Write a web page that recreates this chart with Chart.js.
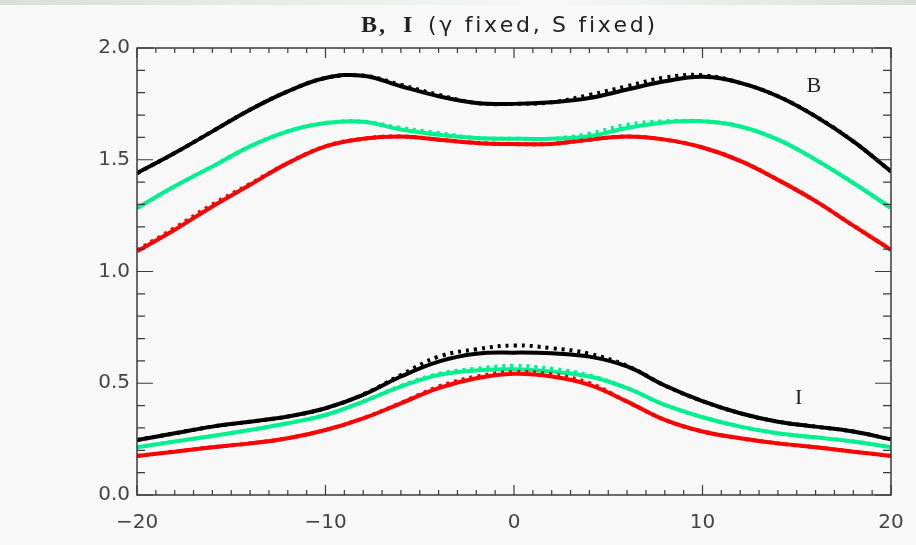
<!DOCTYPE html>
<html>
<head>
<meta charset="utf-8">
<script src="https://cdn.jsdelivr.net/npm/chart.js@4/dist/chart.umd.min.js"></script>
<style>
  html, body { margin: 0; padding: 0; background: #f8f8f8; }
  #wrap { width: 916px; height: 545px; }
</style>
</head>
<body>
<div id="wrap"><canvas id="c" width="916" height="545"></canvas></div>
<script>
// B and I profiles vs position; solid = fit, dotted = model
const X = [-20, -18, -16, -14, -12, -10, -8, -6, -4, -2, 0, 2, 4, 6, 8, 10, 12, 14, 16, 18, 20];

const bBlack      = [1.44, 1.53, 1.627, 1.724, 1.806, 1.866, 1.876, 1.829, 1.784, 1.754, 1.75, 1.757, 1.776, 1.814, 1.851, 1.871, 1.844, 1.784, 1.694, 1.582, 1.448];
const bBlackDot   = [1.44, 1.53, 1.627, 1.724, 1.806, 1.866, 1.876, 1.835, 1.79, 1.754, 1.75, 1.757, 1.79, 1.829, 1.868, 1.878, 1.844, 1.784, 1.694, 1.582, 1.448];
const bGreen      = [1.284, 1.381, 1.47, 1.56, 1.627, 1.664, 1.67, 1.635, 1.612, 1.597, 1.594, 1.594, 1.605, 1.642, 1.667, 1.672, 1.649, 1.59, 1.5, 1.396, 1.284];
const bGreenDot   = [1.284, 1.381, 1.47, 1.56, 1.627, 1.664, 1.67, 1.642, 1.62, 1.597, 1.594, 1.594, 1.617, 1.657, 1.672, 1.672, 1.649, 1.59, 1.5, 1.396, 1.284];
const bRed        = [1.09, 1.187, 1.291, 1.388, 1.485, 1.56, 1.594, 1.604, 1.59, 1.575, 1.57, 1.571, 1.59, 1.604, 1.59, 1.555, 1.495, 1.41, 1.315, 1.205, 1.097];
const bRedDot     = [1.095, 1.195, 1.3, 1.392, 1.485, 1.56, 1.594, 1.604, 1.59, 1.575, 1.57, 1.571, 1.59, 1.604, 1.59, 1.555, 1.495, 1.41, 1.315, 1.205, 1.097];

const iBlack      = [0.246, 0.276, 0.306, 0.328, 0.351, 0.388, 0.448, 0.53, 0.597, 0.632, 0.637, 0.634, 0.619, 0.575, 0.49, 0.42, 0.366, 0.328, 0.306, 0.284, 0.249];
const iBlackDot   = [0.246, 0.276, 0.306, 0.328, 0.351, 0.388, 0.45, 0.537, 0.619, 0.652, 0.669, 0.657, 0.632, 0.578, 0.49, 0.42, 0.366, 0.328, 0.306, 0.284, 0.249];
const iGreen      = [0.214, 0.239, 0.264, 0.291, 0.321, 0.358, 0.418, 0.485, 0.537, 0.557, 0.563, 0.552, 0.53, 0.478, 0.403, 0.348, 0.306, 0.276, 0.258, 0.239, 0.214];
const iGreenDot   = [0.214, 0.239, 0.264, 0.291, 0.321, 0.358, 0.418, 0.488, 0.542, 0.565, 0.578, 0.565, 0.535, 0.478, 0.403, 0.348, 0.306, 0.276, 0.258, 0.239, 0.214];
const iRed        = [0.175, 0.194, 0.214, 0.231, 0.254, 0.291, 0.343, 0.41, 0.478, 0.522, 0.542, 0.53, 0.493, 0.418, 0.336, 0.284, 0.254, 0.231, 0.214, 0.194, 0.175];
const iRedDot     = [0.175, 0.194, 0.214, 0.231, 0.254, 0.291, 0.343, 0.412, 0.485, 0.53, 0.55, 0.54, 0.5, 0.418, 0.336, 0.284, 0.254, 0.231, 0.214, 0.194, 0.175];

const BLACK = '#000000';
const GREEN = '#00f090';
const RED = '#ff0000';

const TICK_FONT = { family: "'DejaVu Sans', sans-serif", size: 20 };
const AXIS_COLOR = '#3a3a3a';

function pts(ys) {
    return ys.map((y, i) => ({ x: X[i], y }));
}

function line(ys, color, dotted) {
    return {
        data: pts(ys),
        borderColor: color,
        borderWidth: 4,
        borderDash: dotted ? [3, 5] : [],
        pointRadius: 0,
        fill: false,
        tension: 0.4,
    };
}

// dotted sets first so they end up drawn on top of the solid ones
const datasets = [
    line(bBlackDot, BLACK, true), line(bGreenDot, GREEN, true), line(bRedDot, RED, true),
    line(iBlackDot, BLACK, true), line(iGreenDot, GREEN, true), line(iRedDot, RED, true),
    line(bBlack, BLACK, false), line(bGreen, GREEN, false), line(bRed, RED, false),
    line(iBlack, BLACK, false), line(iGreen, GREEN, false), line(iRed, RED, false),
];

const frame = {
    id: 'frame',
    beforeDraw(chart) {
        const { ctx, width } = chart;
        ctx.save();
        ctx.fillStyle = '#f8f8f8';
        ctx.fillRect(0, 0, width, chart.height);
        // faint window strip along the top edge
        const g = ctx.createLinearGradient(0, 0, width, 0);
        g.addColorStop(0, '#d8e0d8');
        g.addColorStop(0.45, '#eef2ee');
        g.addColorStop(0.6, '#f6f8f6');
        g.addColorStop(1, '#d8e0d8');
        ctx.fillStyle = g;
        ctx.fillRect(0, 0, width, 5);
        ctx.restore();
    },
    afterDraw(chart) {
        const { ctx, chartArea: a, scales } = chart;
        const xs = scales.x, ys = scales.y;
        ctx.save();
        ctx.strokeStyle = AXIS_COLOR;
        ctx.lineWidth = 1.5;
        ctx.strokeRect(a.left, a.top, a.right - a.left, a.bottom - a.top);

        ctx.lineWidth = 1.2;
        ctx.beginPath();
        for (let v = -20; v <= 20; v++) {
            const px = xs.getPixelForValue(v);
            const len = v % 10 === 0 ? 10 : 5;
            ctx.moveTo(px, a.bottom); ctx.lineTo(px, a.bottom - len);
            ctx.moveTo(px, a.top); ctx.lineTo(px, a.top + len);
        }
        for (let k = 0; k <= 20; k++) {
            const py = ys.getPixelForValue(k / 10);
            const len = k % 5 === 0 ? 16 : 8;
            ctx.moveTo(a.left, py); ctx.lineTo(a.left + len, py);
            ctx.moveTo(a.right, py); ctx.lineTo(a.right - len, py);
        }
        ctx.stroke();

        // title: bold serif "B, I" then a spaced-out sans part
        const cx = (a.left + a.right) / 2;
        const serifBold = "bold 24px 'Liberation Serif', 'DejaVu Serif', serif";
        const sans = "22px 'DejaVu Sans', sans-serif";
        const x0 = cx - 153;
        ctx.fillStyle = '#222';
        ctx.textBaseline = 'alphabetic';
        ctx.font = serifBold;
        ctx.fillText('B', x0, 32);
        ctx.fillText(',', x0 + ctx.measureText('B').width + 2, 32);
        ctx.fillText('I', x0 + 42, 32);

        ctx.font = sans;
        const chars = [...'(\u03b3 fixed, S fixed)'];
        const raw = chars.reduce((s, ch) => s + ctx.measureText(ch).width, 0);
        const sp = (227 - raw) / (chars.length - 1);
        let xp = x0 + 67;
        chars.forEach((ch) => {
            ctx.fillText(ch, xp, 32);
            xp += ctx.measureText(ch).width + sp;
        });

        // curve group labels
        ctx.font = "22px 'Liberation Serif', 'DejaVu Serif', serif";
        ctx.textAlign = 'center';
        ctx.textBaseline = 'middle';
        ctx.fillText('B', xs.getPixelForValue(15.9), ys.getPixelForValue(1.83));
        ctx.fillText('I', xs.getPixelForValue(15.1), ys.getPixelForValue(0.435));
        ctx.restore();
    },
};

new Chart(document.getElementById('c').getContext('2d'), {
    type: 'line',
    data: { datasets },
    options: {
        responsive: false,
        animation: false,
        events: [],
        layout: { padding: { top: 48, right: 25, left: 0, bottom: 0 } },
        plugins: { legend: { display: false }, tooltip: { enabled: false }, title: { display: false } },
        scales: {
            x: {
                type: 'linear',
                min: -20,
                max: 20,
                grid: { display: false, drawTicks: false },
                border: { display: false },
                ticks: {
                    stepSize: 10,
                    padding: 16,
                    color: '#444',
                    font: TICK_FONT,
                    maxRotation: 0,
                    callback: (v) => String(v).replace('-', '\u2212'),
                },
                afterFit: (s) => { s.height = 50; s.paddingLeft = 0; s.paddingRight = 0; },
            },
            y: {
                min: 0,
                max: 2,
                grid: { display: false, drawTicks: false },
                border: { display: false },
                ticks: {
                    stepSize: 0.5,
                    padding: 7,
                    color: '#444',
                    font: TICK_FONT,
                    callback: (v) => Number(v).toFixed(1),
                },
                afterFit: (s) => { s.width = 137; s.paddingTop = 0; s.paddingBottom = 0; },
            },
        },
    },
    plugins: [frame],
});
</script>
</body>
</html>
